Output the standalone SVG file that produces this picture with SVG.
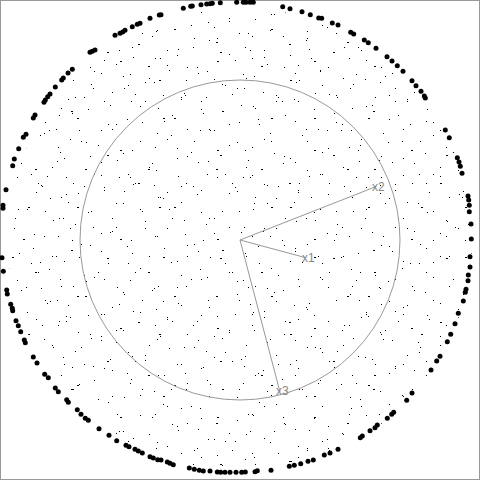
<svg xmlns="http://www.w3.org/2000/svg" width="480" height="480" viewBox="0 0 480 480">
<style>
.frame{fill:none;stroke:#999;stroke-width:1}
.guide{fill:none;stroke:#999;stroke-width:1}
.conn line{stroke:#999;stroke-width:1}
.lbl{font-family:"Liberation Sans",Arial,sans-serif;font-size:12px;fill:#888}
.sd{stroke:#000;stroke-width:1;fill:none}
.big circle{fill:#000}
</style>
<defs>
<pattern id="p1" width="97" height="89" patternUnits="userSpaceOnUse">
<path class="sd" shape-rendering="crispEdges" d="M7 12.5h1M23 61.5h2M38 5.5h1M45 33.5h1M52 78.5h1M61 19.5h1M70 50.5h1M84 8.5h1M90 67.5h1M15 40.5h1M31 85.5h1M77 29.5h2M58 58.5h1M4 73.5h1"/>
</pattern>
<pattern id="p2" width="113" height="103" patternUnits="userSpaceOnUse">
<path class="sd" shape-rendering="crispEdges" d="M3 21.5h1M11 88.5h1M19 47.5h1M27 3.5h1M35 66.5h2M44 30.5h1M50 95.5h1M59 12.5h1M64 55.5h1M73 80.5h1M81 38.5h1M88 6.5h1M94 71.5h1M101 27.5h1M107 52.5h2M17 74.5h1M68 99.5h1M41 82.5h1"/>
</pattern>
<pattern id="p3" width="131" height="127" patternUnits="userSpaceOnUse">
<path class="sd" shape-rendering="crispEdges" d="M2 57.5h1M9 14.5h1M14 101.5h1M21 36.5h1M28 80.5h2M33 121.5h1M40 8.5h1M47 49.5h1M53 93.5h1M60 25.5h1M66 67.5h1M72 113.5h1M79 3.5h1M85 42.5h2M91 84.5h1M98 18.5h1M104 60.5h1M110 105.5h1M117 33.5h1M123 76.5h1M127 119.5h1M56 2.5h1M75 97.5h1M119 50.5h1M36 65.5h1"/>
</pattern>
<pattern id="p4" width="151" height="139" patternUnits="userSpaceOnUse">
<path class="sd" shape-rendering="crispEdges" d="M5 31.5h1M12 118.5h2M18 70.5h1M26 9.5h1M34 95.5h1M42 47.5h1M49 130.5h1M57 22.5h1M63 79.5h1M71 111.5h2M78 54.5h1M86 3.5h1M93 88.5h1M101 36.5h1M108 124.5h1M116 64.5h1M123 14.5h1M131 101.5h1M138 44.5h2M145 82.5h1M9 58.5h1M66 38.5h1M112 92.5h1"/>
</pattern>
</defs>
<rect class="frame" x="0.5" y="0.5" width="479" height="479"/>
<g id="scatter">
<circle cx="240" cy="240" r="232" fill="url(#p1)"/>
<circle cx="240" cy="240" r="232" fill="url(#p2)"/>
<circle cx="240" cy="240" r="232" fill="url(#p3)"/>
<circle cx="240" cy="240" r="232" fill="url(#p4)"/>
</g>
<g id="ring" class="big">
<circle cx="159.3" cy="15" r="2.5"/><circle cx="150" cy="18.3" r="2.5"/><circle cx="140" cy="23.3" r="2.5"/><circle cx="137.3" cy="24.3" r="2.5"/><circle cx="132.3" cy="26.7" r="2.5"/><circle cx="125" cy="30.3" r="2.5"/><circle cx="122.7" cy="32" r="2.5"/><circle cx="120" cy="33.3" r="2.5"/><circle cx="115" cy="35.3" r="2.5"/><circle cx="95" cy="50" r="2.5"/><circle cx="92.3" cy="51.3" r="2.5"/><circle cx="90" cy="52.3" r="2.5"/><circle cx="72.3" cy="69.3" r="2.5"/><circle cx="68" cy="73" r="2.5"/><circle cx="63.3" cy="78" r="2.5"/><circle cx="61.7" cy="80" r="2.5"/><circle cx="55.3" cy="87" r="2.5"/><circle cx="50" cy="94" r="2.5"/><circle cx="47.7" cy="96.7" r="2.5"/><circle cx="45.3" cy="100" r="2.5"/><circle cx="44" cy="102.3" r="2.5"/><circle cx="35" cy="115" r="2.5"/><circle cx="33.3" cy="118" r="2.5"/>
<circle cx="161" cy="14.7" r="2.5"/><circle cx="183.3" cy="8.3" r="2.5"/><circle cx="190.7" cy="6.3" r="2.5"/><circle cx="192.3" cy="6" r="2.5"/><circle cx="201" cy="4.7" r="2.5"/><circle cx="206.7" cy="4" r="2.5"/><circle cx="210" cy="3.7" r="2.5"/><circle cx="212.3" cy="3.3" r="2.5"/><circle cx="220.3" cy="2.7" r="2.5"/><circle cx="236.7" cy="2.3" r="2.5"/><circle cx="243.3" cy="2.3" r="2.5"/><circle cx="246" cy="2.3" r="2.5"/><circle cx="250" cy="2.3" r="2.5"/><circle cx="253.3" cy="2.3" r="2.5"/><circle cx="282.7" cy="6.7" r="2.5"/><circle cx="290" cy="8.7" r="2.5"/><circle cx="302" cy="11.7" r="2.5"/><circle cx="310.3" cy="14.7" r="2.5"/><circle cx="318.7" cy="18" r="2.5"/>
<circle cx="321.7" cy="18.3" r="2.5"/><circle cx="332.3" cy="23" r="2.5"/><circle cx="338" cy="25" r="2.5"/><circle cx="350.7" cy="32.3" r="2.5"/><circle cx="353.7" cy="34" r="2.5"/><circle cx="364.3" cy="40" r="2.5"/><circle cx="368.3" cy="42.7" r="2.5"/><circle cx="376" cy="48.3" r="2.5"/><circle cx="387" cy="56.7" r="2.5"/><circle cx="392" cy="61" r="2.5"/><circle cx="397.3" cy="65.7" r="2.5"/><circle cx="403" cy="71.3" r="2.5"/><circle cx="412" cy="80.7" r="2.5"/><circle cx="416" cy="85.7" r="2.5"/><circle cx="421" cy="91.3" r="2.5"/><circle cx="424.3" cy="96" r="2.5"/><circle cx="425.3" cy="98" r="2.5"/>
<circle cx="445.3" cy="130" r="2.5"/><circle cx="449.3" cy="137.7" r="2.5"/><circle cx="457.3" cy="157.7" r="2.5"/><circle cx="459" cy="162" r="2.5"/><circle cx="460.3" cy="166.3" r="2.5"/><circle cx="462" cy="173.3" r="2.5"/><circle cx="468" cy="196" r="2.5"/><circle cx="468.7" cy="200" r="2.5"/><circle cx="469.3" cy="205.3" r="2.5"/><circle cx="469.3" cy="211.7" r="2.5"/><circle cx="471" cy="224" r="2.5"/><circle cx="471.3" cy="239" r="2.5"/><circle cx="470" cy="256.7" r="2.5"/><circle cx="470" cy="267" r="2.5"/><circle cx="468.3" cy="275" r="2.5"/><circle cx="468" cy="280.7" r="2.5"/><circle cx="466" cy="289.3" r="2.5"/><circle cx="465.3" cy="292.3" r="2.5"/><circle cx="463.3" cy="301" r="2.5"/><circle cx="458.3" cy="313.3" r="2.5"/><circle cx="455" cy="323.7" r="2.5"/><circle cx="450.7" cy="334.3" r="2.5"/><circle cx="447.3" cy="341.7" r="2.5"/><circle cx="440" cy="356.3" r="2.5"/>
<circle cx="436.7" cy="361" r="2.5"/><circle cx="431" cy="370" r="2.5"/><circle cx="412" cy="393" r="2.5"/><circle cx="406.7" cy="400.3" r="2.5"/><circle cx="393.7" cy="412.3" r="2.5"/><circle cx="391.7" cy="414.3" r="2.5"/><circle cx="387.3" cy="418.3" r="2.5"/><circle cx="377.3" cy="425" r="2.5"/><circle cx="375" cy="427.7" r="2.5"/><circle cx="370" cy="430.7" r="2.5"/><circle cx="362.3" cy="436" r="2.5"/><circle cx="360.3" cy="437.7" r="2.5"/><circle cx="338" cy="449.3" r="2.5"/><circle cx="330" cy="453" r="2.5"/><circle cx="324.3" cy="455" r="2.5"/>
<circle cx="161" cy="460" r="2.5"/><circle cx="167.3" cy="462" r="2.5"/><circle cx="170" cy="463.3" r="2.5"/><circle cx="173.3" cy="464.7" r="2.5"/><circle cx="189.3" cy="468" r="2.5"/><circle cx="194.3" cy="469.3" r="2.5"/><circle cx="199.3" cy="470.3" r="2.5"/><circle cx="203.3" cy="471" r="2.5"/><circle cx="210" cy="471" r="2.5"/><circle cx="217.3" cy="472" r="2.5"/><circle cx="220.7" cy="472.3" r="2.5"/><circle cx="225" cy="472.3" r="2.5"/><circle cx="230" cy="472.3" r="2.5"/><circle cx="236" cy="472.3" r="2.5"/><circle cx="241.7" cy="472.3" r="2.5"/><circle cx="245.3" cy="472" r="2.5"/><circle cx="255" cy="471.7" r="2.5"/><circle cx="257.3" cy="470.7" r="2.5"/><circle cx="271" cy="470.3" r="2.5"/><circle cx="289.3" cy="466.3" r="2.5"/><circle cx="294.3" cy="465.3" r="2.5"/><circle cx="300.7" cy="463.7" r="2.5"/><circle cx="308" cy="461.3" r="2.5"/><circle cx="313.3" cy="460" r="2.5"/>
<circle cx="37" cy="363" r="2.5"/><circle cx="44.7" cy="374.3" r="2.5"/><circle cx="48.3" cy="377.7" r="2.5"/><circle cx="55.3" cy="388" r="2.5"/><circle cx="58.3" cy="391.7" r="2.5"/><circle cx="66.7" cy="399.7" r="2.5"/><circle cx="68.3" cy="402.3" r="2.5"/><circle cx="77.3" cy="409.7" r="2.5"/><circle cx="81" cy="414.3" r="2.5"/><circle cx="85.3" cy="418.3" r="2.5"/><circle cx="88.3" cy="420.3" r="2.5"/><circle cx="99" cy="428.7" r="2.5"/><circle cx="109" cy="435.3" r="2.5"/><circle cx="116.7" cy="440.7" r="2.5"/><circle cx="126" cy="445.3" r="2.5"/><circle cx="129" cy="446.7" r="2.5"/><circle cx="135" cy="449.3" r="2.5"/><circle cx="138.3" cy="451" r="2.5"/><circle cx="142.3" cy="453" r="2.5"/><circle cx="150" cy="456.7" r="2.5"/><circle cx="153.3" cy="458" r="2.5"/><circle cx="157.7" cy="459.7" r="2.5"/>
<circle cx="26" cy="134.3" r="2.5"/><circle cx="23.3" cy="137.3" r="2.5"/><circle cx="18.7" cy="148.7" r="2.5"/><circle cx="14.3" cy="159" r="2.5"/><circle cx="12.7" cy="165.7" r="2.5"/><circle cx="6" cy="189.7" r="2.5"/><circle cx="3" cy="205.3" r="2.5"/><circle cx="3" cy="208.3" r="2.5"/><circle cx="2" cy="257.7" r="2.5"/><circle cx="3.3" cy="271.3" r="2.5"/><circle cx="6.7" cy="290" r="2.5"/><circle cx="7.3" cy="294" r="2.5"/><circle cx="10.7" cy="304.3" r="2.5"/><circle cx="12.3" cy="308.3" r="2.5"/><circle cx="12.7" cy="310.7" r="2.5"/><circle cx="16" cy="320.7" r="2.5"/><circle cx="18.3" cy="325.7" r="2.5"/><circle cx="20.7" cy="331.7" r="2.5"/><circle cx="24.3" cy="340" r="2.5"/><circle cx="25.3" cy="342.7" r="2.5"/><circle cx="33.3" cy="357" r="2.5"/>
</g>
<circle id="unit-circle" class="guide" cx="240" cy="240" r="160"/>
<g id="connectors" class="conn">
<line x1="240" y1="240" x2="305" y2="257.5"/>
<line x1="240" y1="240" x2="375" y2="187"/>
<line x1="240" y1="240" x2="280" y2="392"/>
</g>
<g id="x1"><text class="lbl" x="302" y="262">x1</text></g>
<g id="x2"><text class="lbl" x="372" y="191">x2</text></g>
<g id="x3"><text class="lbl" x="276" y="395">x3</text></g>
</svg>
